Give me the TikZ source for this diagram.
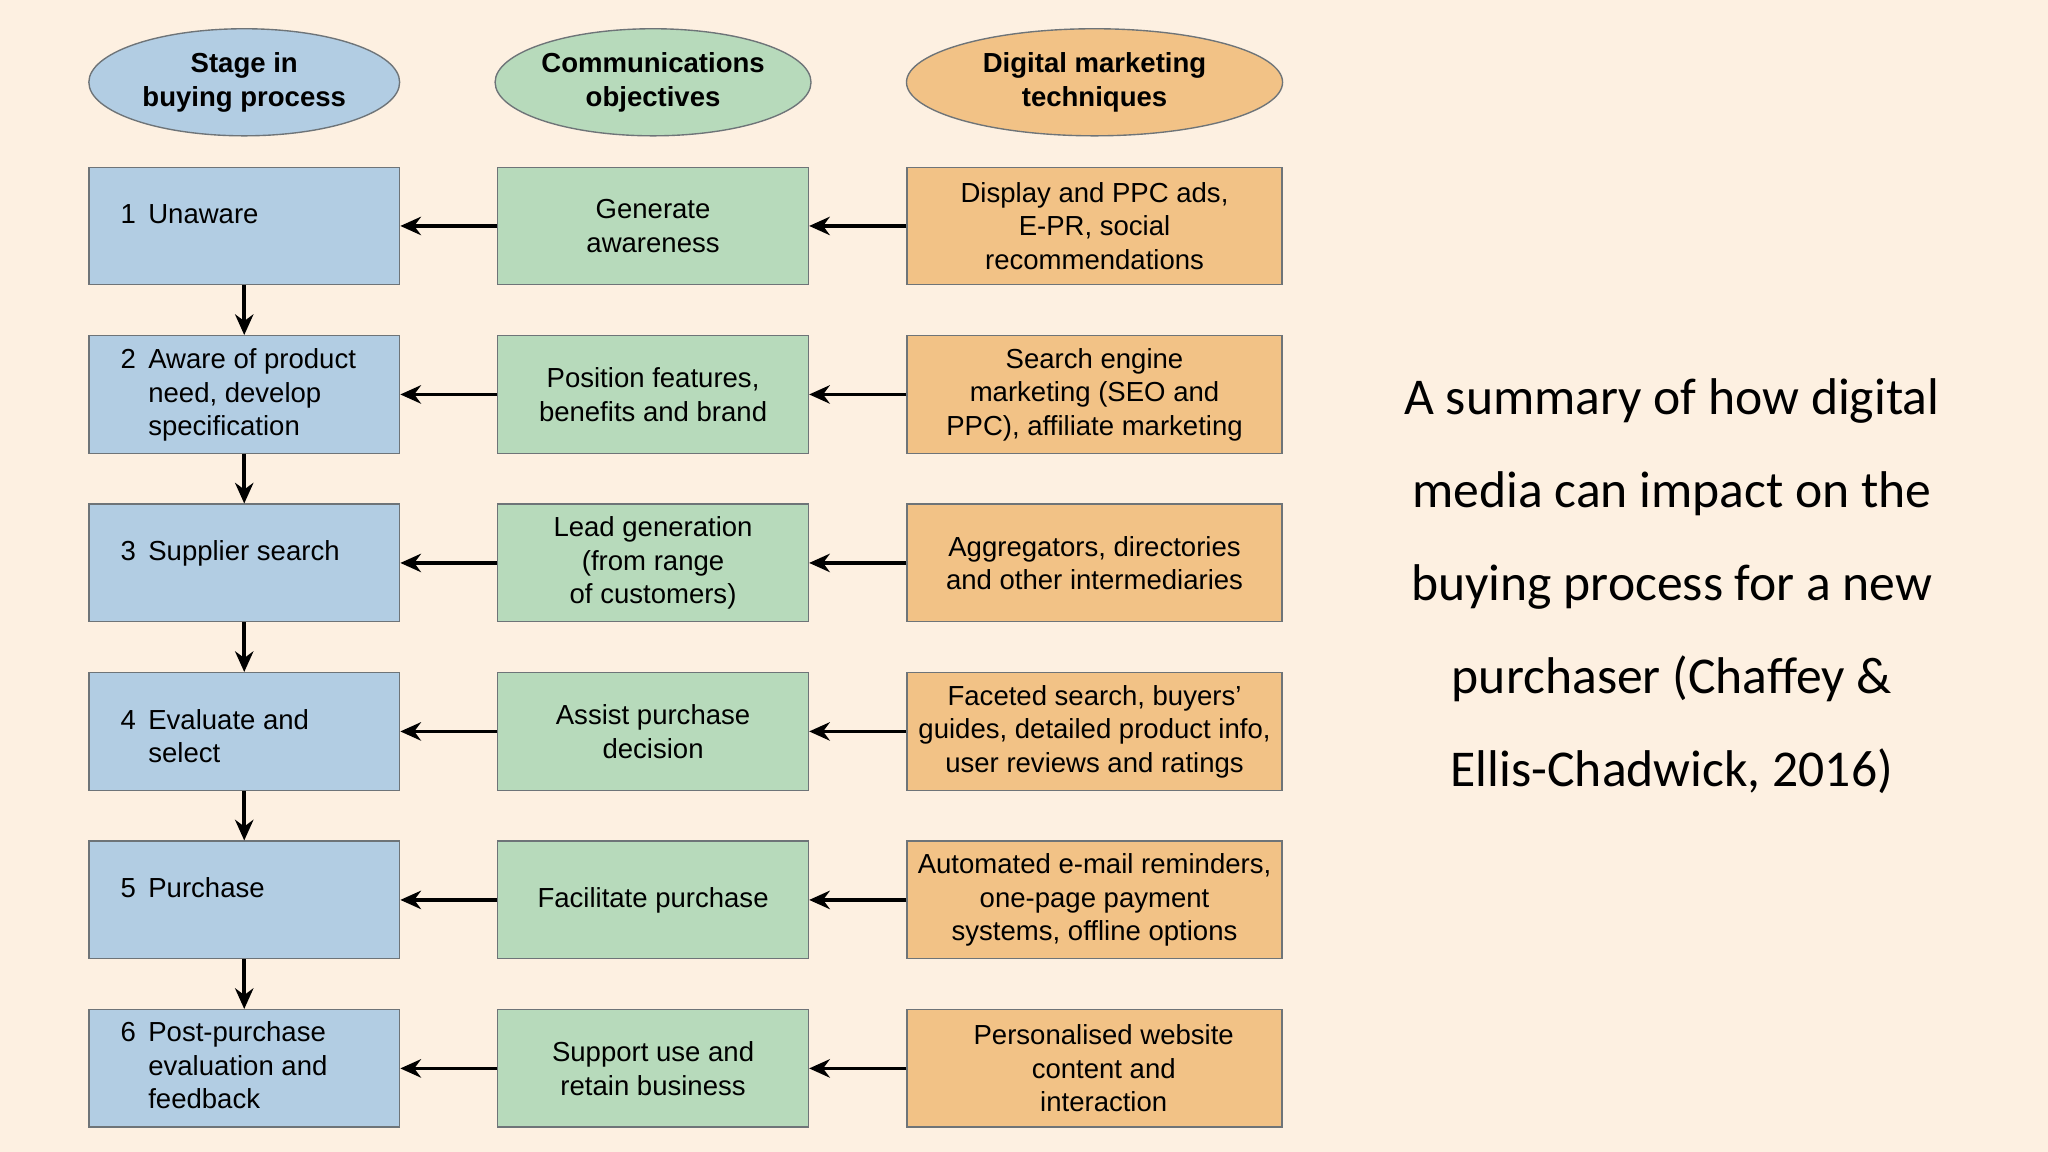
\documentclass[tikz,border=0pt]{standalone}
\usepackage{fontspec}
\setmainfont{Liberation Sans}
\newfontfamily\capfont{Carlito}
\usetikzlibrary{arrows.meta,shapes.geometric}
\definecolor{bgc}{HTML}{FDF0E1}
\definecolor{bluec}{HTML}{B2CDE3}
\definecolor{greenc}{HTML}{B7DABB}
\definecolor{orangec}{HTML}{F2C286}
\definecolor{edgec}{HTML}{6E7478}
\tikzset{
 box/.style={draw=edgec,line width=0.6pt,minimum width=4.76cm,minimum height=1.8cm,align=center,inner sep=0pt,font=\fontsize{12}{14.6}\selectfont},
 bbox/.style={box,fill=bluec},
 gbox/.style={box,fill=greenc},
 obox/.style={box,fill=orangec,minimum width=5.74cm},
 hell/.style={ellipse,draw=edgec,line width=0.6pt,minimum width=4.76cm,minimum height=1.64cm,align=center,inner sep=0pt,font=\bfseries\fontsize{12}{14.6}\selectfont},
 lbl/.style={anchor=west,align=left,inner sep=0pt,font=\fontsize{12}{14.6}\selectfont},
 arr/.style={-{Stealth[length=9pt,width=8pt]},line width=1.6pt},
}
\begin{document}
\begin{tikzpicture}[x=0.02cm,y=-0.02cm]
\fill[bgc] (0,0) rectangle (1568,882);
\useasboundingbox (0,0) rectangle (1568,882);
\node[hell,fill=bluec] (h1) at (187,63) {Stage in\\buying process};
\node[hell,fill=greenc] (h2) at (500,63) {Communications\\objectives};
\node[hell,fill=orangec,minimum width=5.76cm] (h3) at (838,63) {Digital marketing\\techniques};
\foreach \i/\y in {1/173,2/302,3/431,4/560,5/689,6/818}{
 \node[bbox] (a\i) at (187,\y) {};
 \node[gbox] (b\i) at (500,\y) {};
 \node[obox] (c\i) at (838,\y) {};
 \draw[arr] (b\i.west) -- (a\i.east);
 \draw[arr] (c\i.west) -- (b\i.east);
}
\foreach \i/\j in {1/2,2/3,3/4,4/5,5/6}{\draw[arr] (a\i.south) -- (a\j.north);}
\newcommand{\stg}[2]{\begin{tabular}{@{}l@{\hspace{0.45em}}l@{}}#1&#2\end{tabular}}
\node[lbl] (t1) at (92,166) {\stg{1}{Unaware}};
\node[lbl] (t2) at (92,303) {\begin{tabular}{@{}l@{\hspace{0.45em}}l@{}}2&Aware of product\\&need, develop\\&specification\end{tabular}};
\node[lbl] (t3) at (92,424) {\stg{3}{Supplier search}};
\node[lbl] (t4) at (92,566) {\begin{tabular}{@{}l@{\hspace{0.45em}}l@{}}4&Evaluate and\\&select\end{tabular}};
\node[lbl] (t5) at (92,682) {\stg{5}{Purchase}};
\node[lbl] (t6) at (92,818) {\begin{tabular}{@{}l@{\hspace{0.45em}}l@{}}6&Post-purchase\\&evaluation and\\&feedback\end{tabular}};
\node[box,draw=none,minimum height=0pt] at (b1) {Generate\\awareness};
\node[box,draw=none,minimum height=0pt] at (b2) {Position features,\\benefits and brand};
\node[box,draw=none,minimum height=0pt] at (b3) {Lead generation\\(from range\\of customers)};
\node[box,draw=none,minimum height=0pt] at (b4) {Assist purchase\\decision};
\node[box,draw=none,minimum height=0pt] at (b5) {Facilitate purchase};
\node[box,draw=none,minimum height=0pt] at (b6) {Support use and\\retain business};
\node[box,draw=none,minimum height=0pt] at (c1) {Display and PPC ads,\\E-PR, social\\recommendations};
\node[box,draw=none,minimum height=0pt] at (c2) {Search engine\\marketing (SEO and\\PPC), affiliate marketing};
\node[box,draw=none,minimum height=0pt] at (c3) {Aggregators, directories\\and other intermediaries};
\node[box,draw=none,minimum height=0pt] at (c4) {Faceted search, buyers’\\guides, detailed product info,\\user reviews and ratings};
\node[box,draw=none,minimum height=0pt] at (c5) {Automated e-mail reminders,\\one-page payment\\systems, offline options};
\node[box,draw=none,minimum height=0pt] at ([xshift=4]c6) {Personalised website\\content and\\interaction};
\node[align=center,inner sep=0pt,font=\capfont\fontsize{22.5}{40.5}\selectfont] (cap) at (1280,449) {A summary of how digital\\media can impact on the\\buying process for a new\\purchaser (Chaffey \&\\Ellis-Chadwick, 2016)};
\end{tikzpicture}
\end{document}
